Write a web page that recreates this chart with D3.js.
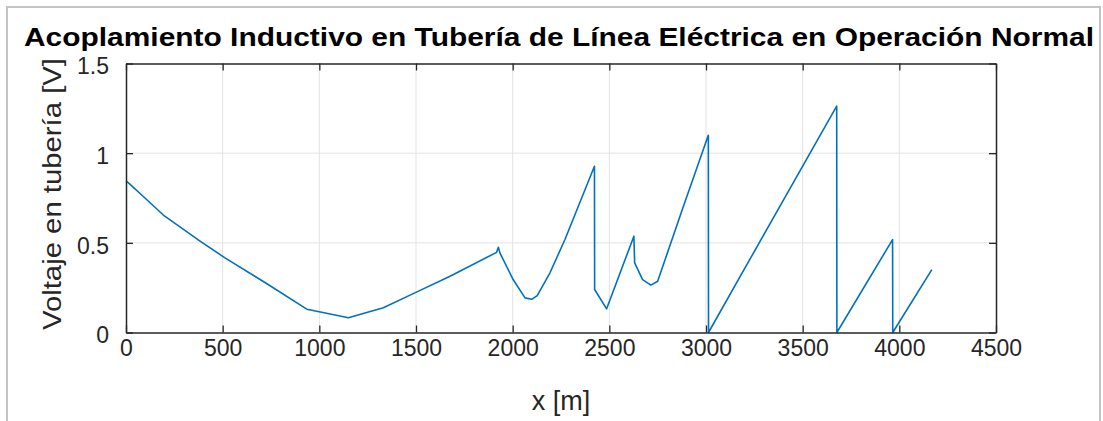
<!DOCTYPE html>
<html>
<head>
<meta charset="utf-8">
<script src="https://cdn.jsdelivr.net/npm/d3@7"></script>
<style>
  html, body { margin: 0; padding: 0; background: #ffffff; }
  svg { display: block; }
  text { font-family: "Liberation Sans", Arial, Helvetica, sans-serif; }
</style>
</head>
<body>
<svg id="chart" width="1103" height="421"></svg>
<script>
// Distance along the pipeline [m]
const distance = [0, 17, 98, 193, 383, 512, 727, 935, 1012, 1150, 1331, 1494, 1676,
  1917, 1926, 1934, 2000, 2064, 2098, 2127, 2193, 2271, 2423, 2424, 2486, 2627, 2631,
  2672, 2715, 2750, 2882, 3012, 3013, 3228, 3676, 3677, 3965, 3966, 4168];
// Induced pipe voltage [V]
const voltage = [0.845, 0.83, 0.75, 0.655, 0.51, 0.416, 0.273, 0.13, 0.113, 0.082, 0.138, 0.221, 0.314,
  0.447, 0.475, 0.444, 0.3, 0.193, 0.185, 0.206, 0.333, 0.52, 0.927, 0.24, 0.132, 0.537, 0.388,
  0.295, 0.264, 0.286, 0.70, 1.10, 0.0, 0.41, 1.262, 0.0, 0.518, 0.0, 0.351];

const xTicks = [0, 500, 1000, 1500, 2000, 2500, 3000, 3500, 4000, 4500];
const yTicks = [0, 0.5, 1, 1.5];

const titleText = "Acoplamiento Inductivo en Tubería de Línea Eléctrica en Operación Normal";
const xLabelText = "x [m]";
const yLabelText = "Voltaje en tubería [V]";

const svg = d3.select("#chart");
const W = 1103, H = 421;
const plot = { left: 126, right: 996, top: 63.5, bottom: 332.5 };

// Figure frame
svg.append("rect")
  .attr("x", 7).attr("y", 7)
  .attr("width", 1093).attr("height", H + 10)
  .attr("fill", "#ffffff")
  .attr("stroke", "#c4c4c4")
  .attr("stroke-width", 2);

const x = d3.scaleLinear().domain([0, 4500]).range([plot.left, plot.right]);
const y = d3.scaleLinear().domain([0, 1.5]).range([plot.bottom, plot.top]);

const axisColor = "#262626";
const gridColor = "#e3e3e3";

// Grid
const grid = svg.append("g");
grid.selectAll("line.gx").data(xTicks.slice(1, -1)).join("line")
  .attr("x1", d => x(d)).attr("x2", d => x(d))
  .attr("y1", plot.top).attr("y2", plot.bottom)
  .attr("stroke", gridColor).attr("stroke-width", 1);
grid.selectAll("line.gy").data(yTicks.slice(1, -1)).join("line")
  .attr("x1", plot.left).attr("x2", plot.right)
  .attr("y1", d => y(d)).attr("y2", d => y(d))
  .attr("stroke", gridColor).attr("stroke-width", 1);

// Data line
const line = d3.line()
  .x((d, i) => x(distance[i]))
  .y(d => y(d));

svg.append("path")
  .datum(voltage)
  .attr("d", line)
  .attr("fill", "none")
  .attr("stroke", "#0072BD")
  .attr("stroke-width", 1.6)
  .attr("stroke-linejoin", "round");

// Axes with inward ticks on all four sides
const tickLen = 7;
const fontTick = "23px";

const xAxisB = d3.axisBottom(x).tickValues(xTicks).tickSizeInner(-tickLen).tickSizeOuter(0)
  .tickPadding(tickLen + 12).tickFormat(d3.format("d"));
const gxb = svg.append("g").attr("transform", `translate(0,${plot.bottom})`).call(xAxisB);

const xAxisT = d3.axisTop(x).tickValues(xTicks).tickSizeInner(-tickLen).tickSizeOuter(0).tickFormat("");
const gxt = svg.append("g").attr("transform", `translate(0,${plot.top})`).call(xAxisT);

const yAxisL = d3.axisLeft(y).tickValues(yTicks).tickSizeInner(-tickLen).tickSizeOuter(0)
  .tickPadding(tickLen + 10).tickFormat(d => d3.format("")(d));
const gyl = svg.append("g").attr("transform", `translate(${plot.left},0)`).call(yAxisL);

const yAxisR = d3.axisRight(y).tickValues(yTicks).tickSizeInner(-tickLen).tickSizeOuter(0).tickFormat("");
const gyr = svg.append("g").attr("transform", `translate(${plot.right},0)`).call(yAxisR);

[gxb, gxt, gyl, gyr].forEach(g => {
  g.select(".domain").attr("stroke", axisColor).attr("stroke-width", 1.5);
  g.selectAll(".tick line").attr("stroke", axisColor).attr("stroke-width", 1.3);
  g.selectAll(".tick text").attr("fill", axisColor)
    .style("font-size", fontTick)
    .style("font-family", "'Liberation Sans', Arial, sans-serif");
});
gxb.selectAll(".tick text").attr("dy", "0.2em");
gyl.selectAll(".tick text").attr("dy", "0.45em");

// Title
svg.append("text")
  .attr("x", 559).attr("y", 46)
  .attr("text-anchor", "middle")
  .attr("fill", "#000000")
  .attr("font-weight", "bold")
  .style("font-size", "25px")
  .attr("textLength", 1070)
  .attr("lengthAdjust", "spacingAndGlyphs")
  .text(titleText);

// Axis labels
svg.append("text")
  .attr("x", (plot.left + plot.right) / 2).attr("y", 410)
  .attr("text-anchor", "middle")
  .attr("fill", axisColor)
  .style("font-size", "27px")
  .text(xLabelText);

svg.append("text")
  .attr("transform", `translate(61,${(58 + 330) / 2}) rotate(-90)`)
  .attr("text-anchor", "middle")
  .attr("fill", axisColor)
  .style("font-size", "25px")
  .attr("textLength", 272)
  .attr("lengthAdjust", "spacingAndGlyphs")
  .text(yLabelText);
</script>
</body>
</html>
